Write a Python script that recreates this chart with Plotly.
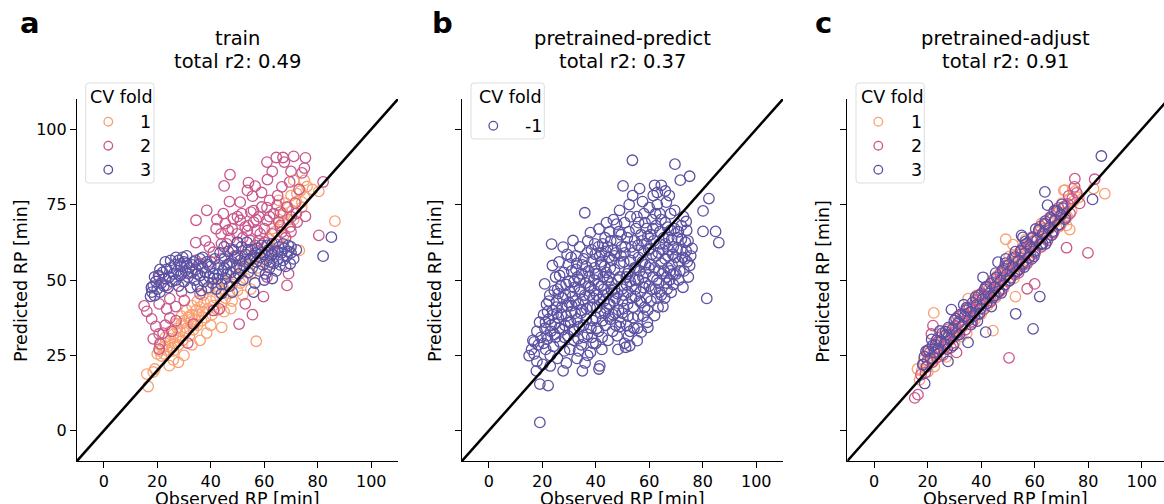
import plotly.graph_objects as go

W, H = 1164, 504
FONT = "DejaVu Sans"
INK = "#000000"

# colour per CV fold
FOLD_COLORS = {"1": "#F9A072", "2": "#C9578C", "3": "#5B51A3", "-1": "#5B51A3"}

x_ticks = [0, 20, 40, 60, 80, 100]
y_ticks = [0, 25, 50, 75, 100]
identity = [-10, 110]

panel_letters = ["a", "b", "c"]
panel_titles = ["train", "pretrained-predict", "pretrained-adjust"]
panel_r2 = [0.49, 0.37, 0.91]

# (observed, predicted) retention times in minutes
train_fold1 = [
    (16.6, 14.7), (16.1, 18.8), (19.1, 20.5), (18.5, 19.5), (20, 25.5), (20.8, 26.5), (21.5, 24.8),
    (22, 27.5), (22.5, 25.5), (23, 29), (23.5, 26.8), (24, 28), (24.5, 21.6), (25, 30.5), (25.5, 27.5),
    (26, 32), (26.5, 29), (27, 31), (27.5, 34), (27.9, 22.7), (28, 28.5), (28.5, 33), (29, 35.5),
    (29.5, 30), (30, 36.5), (30.5, 32.5), (31, 34), (31.5, 37.5), (32, 31.5), (32.5, 36), (33, 38.5),
    (33.5, 33.5), (34, 37), (34.5, 40), (35, 35), (35.5, 38.5), (36, 41), (36.5, 36.5), (37, 39.5),
    (37.5, 42.5), (38.5, 32.4), (38, 37.5), (39, 40.5), (40, 43), (40.5, 38.5), (41, 41.5), (42, 44),
    (42.5, 40), (43, 46), (44.1, 34.3), (44, 42.5), (45, 47), (45.5, 44), (46, 49), (47, 45.5),
    (47.5, 40.5), (48, 48.5), (49, 51), (50, 46.5), (50.5, 52), (51, 49), (52, 54), (53, 50.5),
    (54, 55.5), (55, 52), (56, 57), (57, 29.7), (57.5, 54), (58, 59.5), (59, 56), (60, 61), (61, 58),
    (62, 63.5), (63, 60.5), (64, 66), (65, 63), (65.5, 70), (66, 67.5), (67, 72), (67.5, 65),
    (68, 75.5), (69, 70), (70, 78), (70.5, 73), (71, 83), (72, 76), (73.1, 59.8), (73.5, 79.5),
    (74, 74), (75, 77.5), (76, 81), (80.4, 79.4), (86.4, 69.5), (52, 45), (55, 47), (48, 43),
    (36, 30), (40, 35), (30, 25), (33, 28.5), (26, 23.5), (62, 55), (45, 39.5), (65.4, 76.4),
    (74.1, 75.8), (66.8, 71.4), (72.2, 78.6),
    (21, 29), (23, 31), (25, 33), (27, 35.5), (29, 38), (31, 40), (33, 41.5), (35, 43), (37, 45),
    (39, 47), (26, 26.5), (28, 31), (32, 38), (34, 35.5), (42, 48), (44, 50), (50, 55), (53, 58),
    (58, 63), (63, 67), (67, 69), (71, 70), (69, 74), (75, 83), (78, 80),
]
train_fold2 = [
    (15.1, 41.4), (16.1, 39.6), (17.9, 37.1), (19.5, 34.6), (20.7, 32.1), (22.2, 32.4), (20.7, 27.1),
    (21, 28.8), (31.4, 29.1), (20.7, 42.1), (23.5, 40.4), (24.7, 37.4), (26.9, 41.2), (30.1, 43.2),
    (34.5, 69.8), (34.4, 62.4), (38.5, 73.1), (45, 81.2), (47.2, 84.9), (42.3, 70), (54.1, 82.3),
    (53.7, 79.7), (56.6, 81.1), (55.6, 77.8), (61, 89.1), (61.2, 83.3), (64.5, 90.6), (67, 90.6),
    (67.5, 89.1), (71, 91), (75.4, 90.5), (75, 87.1), (74.1, 85.5), (69.5, 82.5), (66.6, 80.9),
    (82, 82.5), (80.4, 64.8), (75.4, 71.1), (69.1, 52.1), (59.7, 44.5), (55.6, 38.5), (50.6, 35.4),
    (52.9, 42.1), (43.2, 40.4), (41, 39.9), (33.5, 35.4), (29.1, 46.2), (24.7, 43.8), (28.5, 55.4),
    (34.3, 56.5), (39.5, 60.9), (41, 59.2), (43.9, 65.3), (44.7, 72), (51, 75.8), (51.6, 72),
    (48.5, 70.3), (59.1, 74.2), (62, 76.4), (64.8, 74.8), (68.5, 74.2), (70.1, 70.9), (72.3, 69.2),
    (69.7, 67.6), (65.4, 69.2), (61, 69.8), (57.3, 66.4), (52.9, 67.6), (49.8, 65.3), (47.2, 63.7),
    (45.4, 68.7), (54.7, 63.1), (56.6, 61.5), (51, 69.8), (53.7, 66.4), (56, 69.2), (58.5, 65.3),
    (62.9, 65.3), (66.6, 65.9), (68.5, 48.2), (61, 51), (36, 55.4), (31.6, 52.1), (20.7, 51),
    (23.5, 48.2), (36, 45.4), (46.5, 66.5), (50, 62.5), (58, 71), (63.5, 72), (60, 62.5), (55, 72.5),
    (48, 60), (44, 62), (66, 72.5), (71.5, 75.5), (18.5, 30.5), (23, 35), (27, 36.5), (25.5, 33),
    (46, 62), (48, 67), (50, 71), (52, 64), (54, 68), (56, 73), (58, 63), (60, 67), (62, 71),
    (64, 62), (66, 68), (68, 64), (70, 66), (72, 72), (53, 60), (57, 70), (61, 74), (65, 78),
    (49, 58), (44, 57), (40, 56), (38, 63), (42, 67), (47, 76), (59, 79), (63, 86), (70, 86), (73, 80),
]
train_fold3 = [
    (17.5, 44.6), (18, 46), (18.5, 48), (17.8, 47.5), (19, 44.8), (19.5, 49.5), (20, 47), (20.5, 51.5),
    (21, 46), (21.5, 49), (22, 52.5), (22.5, 48), (23, 50.5), (23.5, 53.5), (24, 47.5), (24.5, 51),
    (25, 54), (25.5, 49.5), (26, 52), (26.5, 55), (27, 50), (27.5, 53), (28, 56.5), (28.5, 51.5),
    (29, 54.5), (29.5, 57.5), (30, 49.5), (30.5, 53), (31, 55.5), (31.5, 51), (32, 54), (32.5, 47.5),
    (33, 52.5), (33.5, 56), (34, 50), (34.5, 53.5), (35, 48), (35.5, 55), (36, 51.5), (36.5, 46.5),
    (37, 54), (37.5, 49.5), (38, 52.5), (38.5, 56), (39, 47.5), (39.5, 51), (40, 54.5), (40.5, 49),
    (41, 52), (41.5, 57), (42, 47), (42.5, 50.5), (43, 55), (43.5, 59), (44, 48.5), (44.5, 53),
    (45, 57), (45.5, 50.5), (46, 55), (46.5, 59.5), (47, 48), (47.5, 52.5), (48, 56), (48.5, 60),
    (49, 50.5), (49.5, 54), (50, 58), (50.5, 52), (51, 56.5), (51.5, 61), (52, 50), (52.5, 54.5),
    (53, 58.5), (53.5, 62.5), (54, 52.5), (54.5, 56.5), (55, 60), (55.5, 54), (56, 58), (56.5, 49),
    (57, 56), (57.5, 60.5), (58, 53), (58.5, 57.5), (59, 61.5), (59.5, 55), (60, 58.5), (60.5, 52),
    (61, 56.5), (61.5, 60), (62, 54), (62.5, 58), (63, 62), (63.5, 55.5), (64, 59.5), (64.5, 53),
    (65, 57), (65.5, 61), (66, 55), (66.5, 59), (67, 56.5), (67.5, 60.5), (68, 54.5), (68.5, 58),
    (69, 61.5), (69.7, 55.4), (70, 59), (71, 57), (72, 60), (82, 57.9), (85.1, 64.2), (48, 46),
    (44, 45.5), (60, 50), (63, 50.5), (56, 46), (36, 57), (30, 56), (50, 62.5), (45, 61), (28, 48),
    (19, 51), (21, 53.5), (23, 56), (25, 56.5), (27, 57.5), (29, 52), (31, 58), (33, 55), (35, 52),
    (37, 57.5), (39, 55), (41, 50.5), (43, 52), (45, 54), (47, 55.5), (49, 57.5), (51, 54), (53, 56),
    (55, 57), (57, 59), (59, 59), (61, 61.5), (63, 58.5), (65, 59.5), (67, 62), (69, 59.5), (70, 61),
    (62, 56), (46, 52), (54, 60),
]

predict_fold = [
    (15.1, 24.9), (16, 27), (16.5, 30), (17, 25.5), (17.8, 19.9), (18, 33), (18.5, 28.5), (19, 36),
    (19.1, 15.5), (19.5, 31), (19.1, 2.8), (18, 23), (17, 29.5),
    (20.2, 22), (20.5, 38.5), (20.9, 48.7), (21, 34), (21.3, 27), (21.6, 42), (22, 30.5), (22.2, 15),
    (22.4, 37), (22.8, 45), (23, 25), (23.2, 33), (23.5, 61.9), (23.8, 54.8), (23.9, 40), (24.2, 28),
    (24.5, 46.5), (24.7, 35.5), (25, 31), (25, 51), (22, 39.5), (23, 21.5),
    (25.4, 43), (25.7, 24), (26, 37.5), (26.3, 56), (26.6, 29.5), (27, 48), (27.3, 41), (27.6, 33.5),
    (27.8, 19.9), (28, 52.5), (28.3, 26.5), (28.6, 45), (29, 38), (29.3, 58.5), (29.6, 31.5),
    (30, 49.5), (27.8, 60.9), (26, 45.5), (28.5, 35), (29, 22.5), (30, 42.5), (26.5, 51.5),
    (29.7, 55), (25.5, 39),
    (30.3, 27), (30.6, 36), (31, 53), (31.3, 44.5), (31.5, 63.1), (31.8, 30), (32, 47.5), (32.3, 39),
    (32.6, 58), (33, 24), (33.2, 51), (33.5, 42), (33.8, 34.5), (34, 61), (34.3, 46), (34.6, 28.5),
    (35, 19.9), (35, 55), (32, 33), (33, 37), (34, 50), (31, 41.5), (34.8, 40), (30.8, 57.5),
    (33.6, 26.5), (32.6, 53.5),
    (35.3, 43.5), (35.6, 31), (35.9, 72.3), (36.2, 49), (36.5, 37), (36.8, 59), (37, 25), (37.3, 53),
    (37.6, 45), (38, 65.7), (38.2, 34), (38.5, 56), (38.8, 41), (39, 29), (39.3, 50), (39.6, 62),
    (40, 37.5), (36, 22.5), (37, 63), (38, 47.5), (39, 44), (39.5, 54), (36.5, 40.5), (37.5, 51),
    (38.5, 31), (39.8, 58.5), (35.5, 57), (38, 26),
    (40.3, 45), (40.6, 52), (41, 33), (41.2, 20.5), (41.2, 66.9), (41.5, 58), (41.8, 39), (42, 48),
    (42.3, 27), (42.6, 62), (43, 43), (43.3, 54.5), (43.6, 35), (44, 69), (44.3, 50), (44.6, 30),
    (45, 57.5), (40.5, 41), (41.5, 21.5), (42, 55), (43, 47), (44, 40.5), (41, 61), (42.5, 36.5),
    (43.5, 64), (44.5, 45.5), (40, 29), (42.8, 51), (44.8, 38), (43.8, 59.5),
    (45.3, 42), (45.6, 63), (46, 49), (46.3, 33), (46.6, 70), (47, 53.5), (47.3, 39), (47.6, 59),
    (48, 45.5), (48.3, 27), (48.6, 66), (48.9, 73.1), (49, 51), (49.3, 36), (49.6, 61), (50, 43),
    (50.2, 81.2), (46, 56.5), (47, 47), (48, 31.5), (49, 55.5), (45.5, 37), (47.8, 68.5), (46.8, 43),
    (48.5, 40), (49.8, 47), (45, 51), (46.5, 60), (49.5, 65), (47.5, 35),
    (50.5, 56), (50.8, 29), (51.2, 27.7), (51.5, 48.5), (51.8, 64), (52, 38), (52.3, 53), (52.7, 28.2),
    (53, 71), (53.3, 44), (53.7, 89.7), (54, 59), (54.3, 34), (54.6, 50), (55, 67), (50.5, 40.5),
    (51, 61), (52, 46), (53, 56.5), (54, 41), (52.5, 75), (54.5, 63), (51.5, 35), (53.5, 48), (55, 54),
    (50.8, 69), (52.2, 31.5), (54.8, 44.5), (53.8, 78), (51.8, 52),
    (55.5, 29.9), (55.8, 38), (56, 57.5), (56.4, 80.3), (56.7, 46), (57, 32.7), (57.3, 63), (57.6, 51),
    (58, 72), (58.3, 41), (58.6, 55), (59, 67), (59.3, 36), (59.5, 34.3), (59.8, 60), (60, 48),
    (56, 69), (57, 42.5), (58, 59.5), (59, 44), (56.5, 53), (57.5, 76), (58.5, 49), (59.5, 64.5),
    (55.8, 61.5), (58.8, 52.5), (57.8, 38), (60, 74),
    (60.3, 55), (60.6, 43), (61, 70), (61.4, 51), (61.7, 63), (62, 38.2), (62, 81.4), (62.3, 47),
    (62.6, 58), (63, 75), (63.3, 41), (63.6, 53), (64, 66), (64.5, 81.4), (64.5, 45), (65, 60),
    (61, 58.5), (62.5, 68), (63.5, 49), (64.5, 55.5), (61.5, 78), (64, 72), (60.5, 65), (62.8, 44),
    (63.8, 62), (65.1, 41.2),
    (65.5, 53), (66, 69), (66.4, 75.8), (66.7, 47), (67, 58), (67.3, 64), (67.6, 50), (68, 72),
    (68.2, 45.9), (68.5, 55), (69, 61), (69.5, 73.1), (69.6, 88.4), (70, 52), (66, 62), (67, 54),
    (68, 66.5), (69, 48.5), (65.8, 44), (67.5, 78), (68.8, 58.5), (66.5, 51),
    (70.5, 64), (71, 56), (71.6, 83.1), (71.8, 60), (72, 68), (72.6, 47.6), (73, 53), (73.5, 62.5),
    (73.8, 59.6), (73.8, 69.4), (74.2, 56), (75.1, 54.8), (75.1, 84.4), (71, 50), (72.5, 57.5),
    (74.5, 63),
    (75.5, 58), (80.1, 72.9), (80.1, 66.1), (81.5, 43.9), (82.3, 77), (84.8, 66.1), (86, 62.4),
    (76, 60.5),
    (20.5, 29), (21.2, 36), (21.8, 31.5), (22.5, 43), (23.3, 35), (24, 38.5), (24.6, 32), (25.2, 41),
    (25.8, 47), (26.4, 34), (27.1, 38.5), (27.7, 44), (28.3, 31), (28.9, 48.5), (29.4, 41.5), (29.9, 36),
    (30.4, 46), (30.9, 39.5), (31.4, 33.5), (31.9, 49.5), (32.4, 43), (32.9, 55.5), (33.4, 30.5),
    (33.9, 47), (34.4, 39), (34.9, 52), (35.4, 35), (35.9, 45), (36.4, 54.5), (36.9, 32), (37.4, 48),
    (37.9, 41), (38.4, 60), (38.9, 36.5), (39.4, 46.5), (39.9, 52),
    (40.4, 34), (40.9, 48.5), (41.4, 43.5), (41.9, 56), (42.4, 31), (42.9, 45), (43.4, 39), (43.9, 52.5),
    (44.4, 61), (44.9, 42), (45.4, 54), (45.9, 46.5), (46.4, 38.5), (46.9, 58), (47.4, 44), (47.9, 63),
    (48.4, 50), (48.9, 34.5), (49.4, 58), (49.9, 39), (45.2, 66), (42.2, 59),
    (50.4, 45), (50.9, 59), (51.4, 51), (51.9, 42), (52.4, 66), (52.9, 49.5), (53.4, 61), (53.9, 37.5),
    (54.4, 54), (54.9, 47), (55.4, 71), (55.9, 50), (56.4, 43), (56.9, 65), (57.4, 56), (57.9, 47.5),
    (58.4, 69), (58.9, 62), (59.4, 40), (59.9, 54), (52.8, 33), (55.6, 34),
    (60.4, 60.5), (60.9, 47), (61.4, 67), (61.9, 54), (62.4, 72), (62.9, 50), (63.4, 59), (63.9, 46),
    (64.4, 70), (64.9, 52), (65.4, 64), (65.9, 57), (66.4, 49), (66.9, 67.5), (67.4, 60), (67.9, 53),
    (68.4, 63.5), (68.9, 52), (69.4, 67), (69.9, 57.5), (63, 79), (66, 79.5),
    (70.4, 60), (70.9, 66), (71.4, 53), (72, 63.5), (72.8, 71), (73.3, 57), (74, 66.5), (74.6, 51),
]

adjust_fold1 = [
    (16.2, 20.5), (17.0, 16.9), (17.8, 19.9), (18.6, 23.6), (19.3, 21.0), (20.1, 19.6), (20.9, 24.9),
    (21.6, 23.0), (22.3, 39.1), (22.5, 21.3), (23.2, 27.9), (24.0, 26.5), (24.8, 24.7), (25.5, 31.7),
    (26.3, 27.4), (27.0, 24.5), (27.8, 30.9), (28.6, 30.2), (29.3, 33.5), (30.1, 29.2), (30.8, 34.4),
    (31.6, 33.0), (32.4, 31.2), (33.1, 38.6), (33.9, 35.0), (34.6, 32.3), (35.1, 43.8), (35.4, 38.3),
    (36.2, 37.8), (37.0, 40.9), (37.7, 36.9), (38.5, 40.6), (39.2, 43.3), (40.0, 38.7), (40.8, 44.9),
    (41.5, 43.0), (42.3, 41.4), (43.1, 47.5), (44.4, 33.2), (44.6, 45.8), (45.4, 44.2), (46.1, 49.7),
    (46.9, 46.0), (47.7, 50.6), (48.4, 47.2), (49.2, 63.5), (49.3, 53.1), (50.0, 49.4), (50.8, 52.9),
    (51.5, 55.8), (51.9, 61.7), (52.3, 50.6), (52.8, 44.5), (53.1, 56.0), (53.8, 54.4), (54.6, 59.2),
    (55.4, 54.7), (56.1, 57.9), (56.9, 61.3), (57.7, 56.2), (58.4, 60.5), (59.2, 63.0), (60.0, 58.8),
    (60.7, 62.9), (61.5, 65.9), (62.3, 61.4), (63.0, 64.5), (63.8, 67.1), (64.6, 63.3), (65.3, 66.8),
    (66.1, 70.6), (66.9, 65.4), (67.6, 69.2), (68.4, 71.9), (69.1, 67.7), (69.9, 72.3), (70.9, 79.7),
    (70.7, 70.1), (71.5, 74.6), (72.2, 71.0), (73.1, 66.7), (73.0, 76.8), (73.8, 72.9), (74.6, 76.2),
    (75.3, 79.5), (76.5, 77.4), (82.0, 80.3), (86.2, 78.6), (71.3, 79.8),
    (19.8, 25.7), (23.6, 29.4), (26.9, 32.6), (29.9, 31.4), (32.7, 36.2), (36.6, 41.1), (39.6, 45.2),
    (42.9, 44.0), (45.8, 51.3), (48.9, 54.6), (52.2, 58.1), (55.7, 60.9), (58.8, 64.2), (61.9, 67.3),
    (64.9, 70.1), (67.9, 73.4), (70.2, 75.5), (71.9, 68.1), (74.2, 80.2), (38.2, 44.9), (44.1, 49.7),
    (50.5, 57.8), (56.5, 63.4), (62.6, 68.8),
]
adjust_fold2 = [
    (15.2, 10.9), (16.4, 12.0), (17.5, 18.6), (18.4, 21.9), (19.2, 19.3), (20.0, 23.4), (20.7, 25.8),
    (21.4, 32.1), (22.0, 34.9), (21.8, 22.7), (22.6, 26.1), (23.4, 24.3), (24.1, 29.6), (24.9, 27.0),
    (25.7, 25.1), (26.4, 31.4), (27.2, 29.1), (28.0, 33.8), (28.7, 27.6), (29.5, 32.5), (30.3, 34.9),
    (30.8, 26.0), (31.0, 31.7), (31.8, 36.4), (32.6, 34.2), (33.3, 38.9), (34.1, 33.5), (34.9, 37.7),
    (35.6, 40.8), (36.4, 36.2), (37.2, 39.9), (37.9, 43.1), (38.7, 38.5), (39.5, 42.0), (40.2, 45.6),
    (41.0, 40.3), (41.8, 43.7), (42.5, 47.9), (43.3, 42.6), (44.1, 46.8), (44.8, 50.3), (45.6, 44.9),
    (46.4, 48.5), (47.1, 52.2), (47.9, 47.0), (48.7, 50.9), (49.4, 54.7), (50.4, 24.2), (50.2, 49.6),
    (51.0, 53.3), (51.7, 57.1), (52.5, 51.8), (53.3, 55.9), (54.0, 52.4), (54.8, 58.6), (55.6, 56.0),
    (56.3, 60.3), (57.2, 47.1), (57.1, 55.4), (57.9, 61.2), (58.6, 58.0), (59.4, 62.7), (60.0, 48.7),
    (60.2, 59.1), (60.9, 63.8), (61.7, 66.6), (62.5, 61.0), (63.2, 65.3), (64.0, 68.4), (64.8, 63.1),
    (65.5, 67.2), (66.3, 70.1), (67.1, 65.9), (67.8, 69.8), (68.6, 72.5), (69.4, 68.2), (70.1, 71.6),
    (70.9, 74.3), (71.9, 60.7), (71.6, 70.8), (72.4, 75.2), (73.2, 72.1), (74.0, 77.0), (75.0, 83.6),
    (75.7, 78.9), (76.8, 75.4), (79.9, 59.0), (82.4, 83.4), (74.9, 80.9),
    (19.9, 26.3), (23.9, 30.8), (27.7, 31.6), (31.3, 37.9), (34.8, 40.5), (38.2, 43.6), (41.6, 47.5),
    (45.1, 50.4), (48.4, 53.8), (51.9, 56.9), (55.2, 60.4), (58.7, 63.6), (62.1, 67.8), (65.8, 70.9),
    (68.9, 73.9), (72.7, 77.9), (36.7, 35.8), (46.8, 46.3), (56.8, 55.9), (66.6, 65.7), (26.5, 27.8),
    (43.7, 43.2), (53.7, 53.0),
]
adjust_fold3 = [
    (18.9, 15.7), (18.2, 22.0), (18.8, 24.6), (19.6, 21.3), (20.3, 26.8), (21.0, 24.1), (21.8, 28.2),
    (22.5, 25.9), (23.3, 30.0), (24.0, 27.2), (24.8, 29.5), (25.5, 32.4), (26.3, 28.8), (27.0, 31.9),
    (27.6, 23.0), (27.8, 34.3), (28.5, 30.6), (28.9, 40.2), (29.3, 33.8), (30.0, 36.5), (30.8, 32.4),
    (31.5, 35.7), (32.3, 38.6), (33.0, 34.9), (33.8, 37.9), (34.5, 40.8), (35.1, 29.3), (35.3, 36.6),
    (36.0, 39.4), (36.8, 42.5), (37.5, 38.1), (38.3, 41.7), (39.0, 44.8), (39.8, 40.5), (40.5, 43.6),
    (40.7, 50.9), (41.3, 46.9), (41.7, 32.7), (42.0, 42.2), (42.8, 45.5), (43.5, 48.8), (44.3, 44.1),
    (45.0, 47.6), (45.8, 50.9), (46.3, 55.9), (46.5, 46.2), (47.3, 49.9), (48.0, 53.2), (48.8, 48.4),
    (49.5, 51.8), (50.3, 55.0), (51.0, 50.7), (51.8, 54.3), (52.5, 57.6), (52.9, 38.8), (53.3, 52.9),
    (54.0, 56.4), (54.8, 59.7), (55.1, 64.8), (55.5, 55.3), (56.3, 58.8), (57.0, 62.1), (57.8, 57.4),
    (58.5, 60.9), (59.3, 64.2), (59.4, 33.8), (60.0, 59.6), (60.8, 63.1), (61.5, 66.5), (61.9, 44.5),
    (62.3, 61.8), (63.0, 65.4), (63.8, 79.2), (63.8, 68.7), (64.5, 63.9), (64.8, 74.8), (65.3, 67.3),
    (66.0, 70.6), (66.8, 66.2), (67.5, 69.8), (68.3, 72.9), (69.0, 68.4), (69.8, 71.5), (70.5, 73.8),
    (71.3, 70.2), (81.6, 76.7), (84.9, 91.1), (55.6, 64.1), (49.2, 57.0), (33.5, 41.8), (24.6, 33.1),
    (43.8, 41.2), (58.9, 57.0), (38.6, 36.4), (64.1, 62.0), (56.1, 54.3), (47.5, 45.7), (29.5, 28.3),
    (21.5, 30.3),
    (19.4, 26.4), (22.9, 28.6), (26.7, 32.9), (30.6, 37.2), (34.3, 39.9), (37.9, 44.3), (41.9, 47.8),
    (45.4, 52.3), (49.1, 55.6), (52.8, 59.4), (56.6, 62.8), (60.4, 66.9), (63.9, 69.5), (67.3, 72.9),
    (70.2, 75.1), (39.4, 38.9), (44.9, 44.8), (50.7, 49.9), (54.3, 53.6), (59.7, 57.8), (62.9, 62.1),
    (66.4, 64.9), (31.8, 31.9), (27.3, 27.1), (36.2, 35.2),
]

panel_series = [
    [("1", train_fold1), ("2", train_fold2), ("3", train_fold3)],
    [("-1", predict_fold)],
    [("1", adjust_fold1), ("2", adjust_fold2), ("3", adjust_fold3)],
]

# pixel geometry of each panel
PLOT_TOP, PLOT_BOTTOM = 99, 461
panels = [
    dict(x0=77, x1=398, xmax=110, letter_x=30, ylab_x=21,
         legend=dict(box=(85.7, 83, 154, 183), title_x=88.3, marker_x=108.3, label_x=138.3)),
    dict(x0=462, x1=783, xmax=110, letter_x=442, ylab_x=435,
         legend=dict(box=(471, 83, 544.3, 139), title_x=476.7, marker_x=493.3, label_x=522.7)),
    dict(x0=847.3, x1=1164, xmax=108.3, letter_x=823, ylab_x=822.7,
         legend=dict(box=(856, 83, 924.3, 183), title_x=859, marker_x=878.3, label_x=909.3)),
]


def fx(p):
    return p / W


def fy(p):
    return 1 - p / H


fig = go.Figure()
shapes = []
annotations = []

for i, (pan, series) in enumerate(zip(panels, panel_series)):
    n = "" if i == 0 else str(i + 1)
    xa, ya = "x" + n, "y" + n
    for fold, pts in series:
        fig.add_trace(go.Scatter(
            x=[p[0] for p in pts], y=[p[1] for p in pts], mode="markers",
            xaxis=xa, yaxis=ya, showlegend=False, hoverinfo="skip",
            marker=dict(symbol="circle-open", size=10.5, color=FOLD_COLORS[fold],
                        line=dict(width=1.3, color=FOLD_COLORS[fold])),
        ))
    fig.add_trace(go.Scatter(
        x=identity, y=identity, mode="lines", xaxis=xa, yaxis=ya,
        showlegend=False, hoverinfo="skip", line=dict(color=INK, width=2.5),
    ))

    axis_common = dict(showgrid=False, zeroline=False, showline=True, linecolor=INK, linewidth=1.2,
                       ticks="outside", ticklen=6, tickwidth=1.2, tickcolor=INK,
                       tickfont=dict(family=FONT, size=16, color=INK))
    fig.layout["xaxis" + n] = dict(domain=[fx(pan["x0"]), fx(pan["x1"])], range=[-10, pan["xmax"]],
                                   tickvals=x_ticks, anchor=ya, **axis_common)
    fig.layout["yaxis" + n] = dict(domain=[fy(PLOT_BOTTOM), fy(PLOT_TOP)], range=[-10, 110],
                                   tickvals=y_ticks, showticklabels=(i == 0), anchor=xa, **axis_common)

    cx = (pan["x0"] + min(pan["x1"], pan["x0"] + 321)) / 2
    # titles
    annotations.append(dict(text=panel_titles[i], x=fx(cx), y=fy(39), xref="paper", yref="paper",
                            showarrow=False, xanchor="center", yanchor="middle",
                            font=dict(family=FONT, size=19.5, color=INK)))
    annotations.append(dict(text=f"total r2: {panel_r2[i]:.2f}", x=fx(cx), y=fy(61), xref="paper",
                            yref="paper", showarrow=False, xanchor="center", yanchor="middle",
                            font=dict(family=FONT, size=19.5, color=INK)))
    annotations.append(dict(text=f"<b>{panel_letters[i]}</b>", x=fx(pan["letter_x"]), y=fy(23),
                            xref="paper", yref="paper", showarrow=False, xanchor="center",
                            yanchor="middle", font=dict(family=FONT, size=29, color=INK)))
    # axis titles
    annotations.append(dict(text="Observed RP [min]", x=fx(cx), y=fy(498.5), xref="paper", yref="paper",
                            showarrow=False, xanchor="center", yanchor="middle",
                            font=dict(family=FONT, size=17.5, color=INK)))
    annotations.append(dict(text="Predicted RP [min]", x=fx(pan["ylab_x"]), y=fy(281), xref="paper",
                            yref="paper", showarrow=False, xanchor="center", yanchor="middle",
                            textangle=-90, font=dict(family=FONT, size=17.5, color=INK)))

    # legend box
    lg = pan["legend"]
    bx0, by0, bx1, by1 = lg["box"]
    r = 3
    path = (f"M {fx(bx0 + r)},{fy(by0)} L {fx(bx1 - r)},{fy(by0)} "
            f"Q {fx(bx1)},{fy(by0)} {fx(bx1)},{fy(by0 + r)} L {fx(bx1)},{fy(by1 - r)} "
            f"Q {fx(bx1)},{fy(by1)} {fx(bx1 - r)},{fy(by1)} L {fx(bx0 + r)},{fy(by1)} "
            f"Q {fx(bx0)},{fy(by1)} {fx(bx0)},{fy(by1 - r)} L {fx(bx0)},{fy(by0 + r)} "
            f"Q {fx(bx0)},{fy(by0)} {fx(bx0 + r)},{fy(by0)} Z")
    shapes.append(dict(type="path", path=path, xref="paper", yref="paper",
                       line=dict(color="#DDDDDD", width=1), fillcolor="rgba(255,255,255,0.8)",
                       layer="above"))
    annotations.append(dict(text="CV fold", x=fx(lg["title_x"]), y=fy(96.7), xref="paper", yref="paper",
                            showarrow=False, xanchor="left", yanchor="middle",
                            font=dict(family=FONT, size=17.5, color=INK)))
    for k, (fold, _) in enumerate(series):
        my = 121.7 + 24 * k if len(series) > 1 else 125.7
        rad = 4.3
        shapes.append(dict(type="circle", xref="paper", yref="paper",
                           x0=fx(lg["marker_x"] - rad), x1=fx(lg["marker_x"] + rad),
                           y0=fy(my + rad), y1=fy(my - rad),
                           line=dict(color=FOLD_COLORS[fold], width=1.3), layer="above"))
        annotations.append(dict(text=fold, x=fx(lg["label_x"]), y=fy(my), xref="paper", yref="paper",
                                showarrow=False, xanchor="left", yanchor="middle",
                                font=dict(family=FONT, size=17.5, color=INK)))

fig.update_layout(
    width=W, height=H, margin=dict(l=0, r=0, t=0, b=0),
    paper_bgcolor="white", plot_bgcolor="white",
    shapes=shapes, annotations=annotations,
    font=dict(family=FONT, color=INK),
)

fig.write_html("out.html")
